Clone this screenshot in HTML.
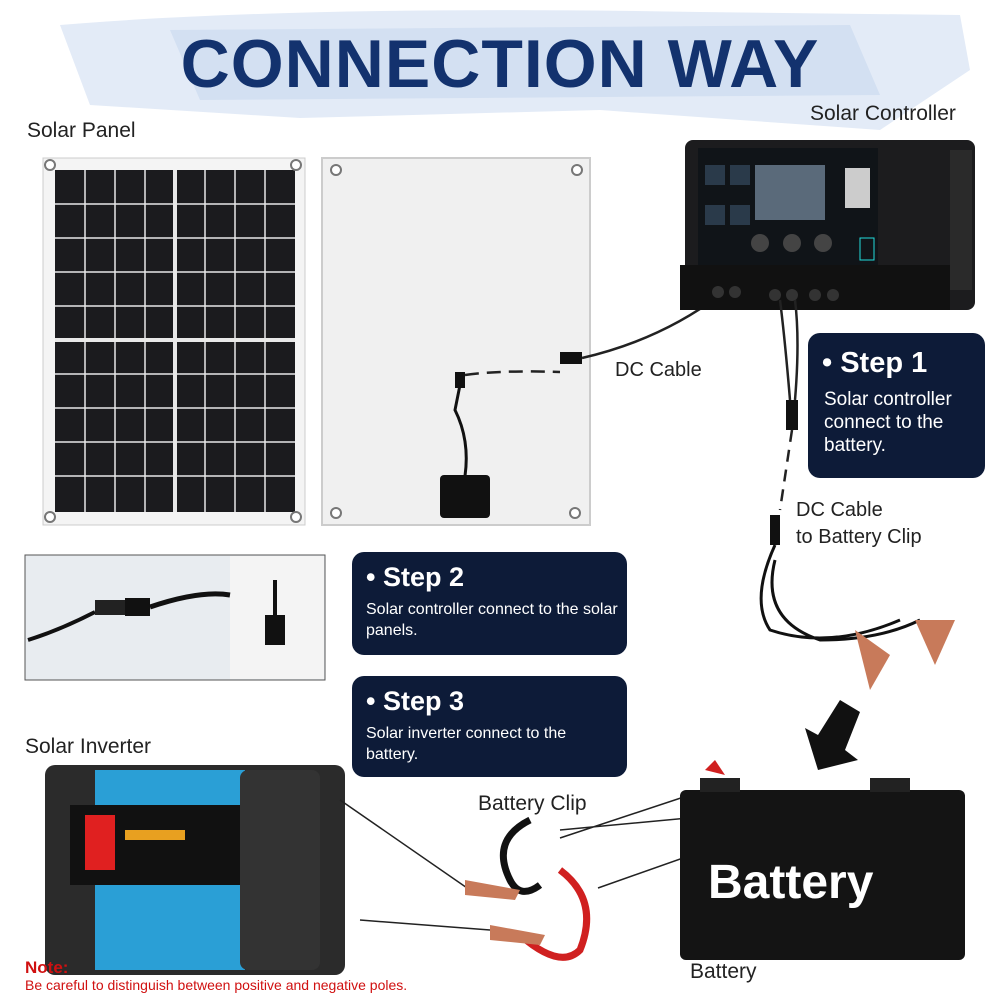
<!DOCTYPE html>
<html><head><meta charset="utf-8"><style>
body{margin:0;width:1000px;height:1000px;overflow:hidden;background:#fff;font-family:"Liberation Sans",sans-serif;position:relative}
.a{position:absolute}
.lbl{font-size:21px;color:#222}
.step{background:#0d1b38;border-radius:12px;color:#fff}
.step h2{margin:0;font-size:29px;font-weight:bold}
.step p{margin:0;}
</style></head><body>
<svg class="a" style="left:0;top:0" width="1000" height="1000">
 <path d="M60 25 Q300 5 700 12 L960 15 L970 70 L880 130 L600 110 L300 118 L90 105 Z" fill="#e3ebf7"/>
 <path d="M170 30 L850 25 L880 95 L200 100 Z" fill="#d3e0f2"/>
 <rect x="43" y="158" width="262" height="367" fill="#f4f4f4" stroke="#ccc"/>
 <rect x="55" y="170" width="240" height="342" fill="#1b1b1e"/>
 <g stroke="#e8e8e8" stroke-width="1.5">
  <line x1="85" y1="170" x2="85" y2="512"/><line x1="115" y1="170" x2="115" y2="512"/><line x1="145" y1="170" x2="145" y2="512"/>
  <line x1="175" y1="170" x2="175" y2="512" stroke-width="4"/><line x1="205" y1="170" x2="205" y2="512"/><line x1="235" y1="170" x2="235" y2="512"/><line x1="265" y1="170" x2="265" y2="512"/>
  <line x1="55" y1="204" x2="295" y2="204"/><line x1="55" y1="238" x2="295" y2="238"/><line x1="55" y1="272" x2="295" y2="272"/><line x1="55" y1="306" x2="295" y2="306"/>
  <line x1="55" y1="340" x2="295" y2="340" stroke-width="4"/><line x1="55" y1="374" x2="295" y2="374"/><line x1="55" y1="408" x2="295" y2="408"/><line x1="55" y1="442" x2="295" y2="442"/><line x1="55" y1="476" x2="295" y2="476"/>
 </g>
 <g fill="#fff" stroke="#777" stroke-width="2"><circle cx="50" cy="165" r="5"/><circle cx="296" cy="165" r="5"/><circle cx="50" cy="517" r="5"/><circle cx="296" cy="517" r="5"/>
 <rect x="322" y="158" width="268" height="367" fill="#f0f0f0" stroke="#ccc"/>
 <circle cx="336" cy="170" r="5"/><circle cx="577" cy="170" r="5"/><circle cx="336" cy="513" r="5"/><circle cx="575" cy="513" r="5"/></g>
 <rect x="440" y="475" width="50" height="43" rx="4" fill="#111"/>
 <path d="M465 476 Q470 440 455 410 L460 385" stroke="#111" stroke-width="3" fill="none"/>
 <rect x="455" y="372" width="10" height="16" fill="#111"/>
 <path d="M465 375 Q500 370 560 372" stroke="#222" stroke-width="2.5" fill="none" stroke-dasharray="14 8"/>
 <rect x="560" y="352" width="22" height="12" fill="#111"/>
 <path d="M582 358 Q660 340 720 295" stroke="#222" stroke-width="2.5" fill="none"/>
 <rect x="685" y="140" width="290" height="170" rx="8" fill="#1c1c1e"/>
 <rect x="950" y="150" width="22" height="140" fill="#2a2a2a"/>
 <rect x="698" y="148" width="180" height="118" fill="#101418"/>
 <rect x="755" y="165" width="70" height="55" fill="#5a6a7a"/>
 <rect x="845" y="168" width="25" height="40" fill="#ccc"/>
 <g fill="#2a3a4a"><rect x="705" y="165" width="20" height="20"/><rect x="730" y="165" width="20" height="20"/><rect x="705" y="205" width="20" height="20"/><rect x="730" y="205" width="20" height="20"/></g>
 <g fill="#444"><circle cx="760" cy="243" r="9"/><circle cx="792" cy="243" r="9"/><circle cx="823" cy="243" r="9"/></g>
 <rect x="860" y="238" width="14" height="22" fill="none" stroke="#2dd"/>
 <rect x="680" y="265" width="270" height="45" fill="#111"/>
 <g fill="#333"><circle cx="718" cy="292" r="6"/><circle cx="735" cy="292" r="6"/><circle cx="775" cy="295" r="6"/><circle cx="792" cy="295" r="6"/><circle cx="815" cy="295" r="6"/><circle cx="833" cy="295" r="6"/></g>
 <path d="M780 300 Q785 340 790 400 M795 300 Q800 340 795 400" stroke="#222" stroke-width="2.5" fill="none"/>
 <rect x="786" y="400" width="12" height="30" fill="#111"/>
 <path d="M792 430 L780 510" stroke="#222" stroke-width="2.5" stroke-dasharray="12 8"/>
 <rect x="770" y="515" width="10" height="30" fill="#111"/>
 <path d="M775 545 Q750 600 770 630 Q830 650 900 620 M775 560 Q760 620 820 640 Q880 640 920 620" stroke="#111" stroke-width="3" fill="none"/>
 <path d="M855 630 L870 690 L890 655 Z" fill="#c87a5a"/><path d="M915 620 L935 665 L955 620 Z" fill="#c87a5a"/>
 <path d="M860 712 L840 700 L818 735 L805 728 L818 770 L858 760 L845 750 Z" fill="#111"/>
 <rect x="25" y="555" width="300" height="125" fill="#e8ecf0" stroke="#555"/>
 <rect x="230" y="556" width="94" height="123" fill="#f4f4f4"/>
 <path d="M28 640 Q60 630 95 612" stroke="#111" stroke-width="4" fill="none"/>
 <rect x="95" y="600" width="30" height="15" fill="#222"/><rect x="125" y="598" width="25" height="18" fill="#111"/>
 <path d="M150 607 Q200 590 230 595" stroke="#111" stroke-width="5" fill="none"/>
 <path d="M275 580 L275 615" stroke="#111" stroke-width="4"/><rect x="265" y="615" width="20" height="30" fill="#111"/>
 <rect x="45" y="765" width="300" height="210" rx="10" fill="#2b2b2b"/>
 <rect x="95" y="770" width="150" height="200" fill="#2a9fd6"/>
 <rect x="70" y="805" width="195" height="80" fill="#111"/>
 <rect x="85" y="815" width="30" height="55" fill="#e02020"/>
 <rect x="125" y="830" width="60" height="10" fill="#e8a020"/>
 <rect x="240" y="770" width="80" height="200" rx="8" fill="#333"/>
 <path d="M340 800 L470 890 M360 920 L490 930" stroke="#222" stroke-width="1.5"/>
 <path d="M530 820 Q490 840 510 880 Q520 900 540 885" stroke="#111" stroke-width="7" fill="none"/>
 <path d="M560 870 Q600 900 580 950 Q560 970 520 935" stroke="#d02020" stroke-width="7" fill="none"/>
 <path d="M465 880 L520 890 L515 900 L465 895 Z" fill="#c87a5a"/>
 <path d="M490 925 L545 935 L540 945 L490 940 Z" fill="#c87a5a"/>
 <path d="M560 838 L720 785 M598 888 L890 785 M560 830 L880 800" stroke="#222" stroke-width="1.5"/>
 <rect x="680" y="790" width="285" height="170" rx="6" fill="#141414"/>
 <rect x="700" y="778" width="40" height="14" fill="#222"/><rect x="870" y="778" width="40" height="14" fill="#222"/>
 <path d="M705 770 L715 760 L725 775 Z" fill="#d02020"/>
</svg>
<div class="a" style="left:0;top:25px;width:1000px;text-align:center;font-size:68px;font-weight:900;color:#13326e;letter-spacing:1px">CONNECTION WAY</div>
<div class="a lbl" style="left:27px;top:119px">Solar Panel</div>
<div class="a lbl" style="left:810px;top:102px">Solar Controller</div>
<div class="a lbl" style="left:615px;top:359px;font-size:20px">DC Cable</div>
<div class="a lbl" style="left:796px;top:497px;font-size:20px;line-height:27px">DC Cable<br>to Battery Clip</div>
<div class="a step" style="left:808px;top:333px;width:177px;height:145px">
 <h2 style="margin:14px 0 0 14px">• Step 1</h2>
 <p style="margin:8px 0 0 16px;font-size:19px;line-height:23px">Solar controller connect to the battery.</p></div>
<div class="a step" style="left:352px;top:552px;width:275px;height:103px">
 <h2 style="margin:10px 0 0 14px;font-size:27px">• Step 2</h2>
 <p style="margin:6px 0 0 14px;width:255px;font-size:16px;line-height:21px">Solar controller connect to the solar panels.</p></div>
<div class="a step" style="left:352px;top:676px;width:275px;height:101px">
 <h2 style="margin:10px 0 0 14px;font-size:27px">• Step 3</h2>
 <p style="margin:6px 0 0 14px;width:240px;font-size:16px;line-height:21px">Solar inverter connect to the battery.</p></div>
<div class="a lbl" style="left:25px;top:735px">Solar Inverter</div>
<div class="a lbl" style="left:478px;top:792px">Battery Clip</div>
<div class="a" style="left:708px;top:855px;font-size:48px;font-weight:bold;color:#fff">Battery</div>
<div class="a lbl" style="left:690px;top:960px">Battery</div>
<div class="a" style="left:25px;top:958px;font-size:17px;font-weight:bold;color:#d01010">Note:</div>
<div class="a" style="left:25px;top:977px;font-size:14px;color:#d01010">Be careful to distinguish between positive and negative poles.</div>
</body></html>
